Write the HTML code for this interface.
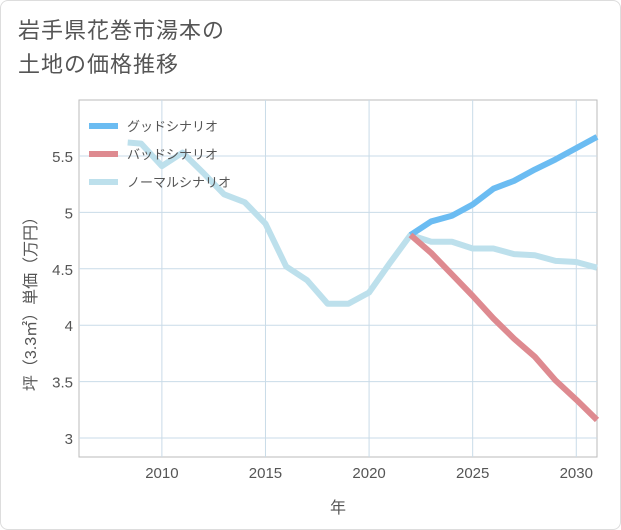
<!DOCTYPE html>
<html><head><meta charset="utf-8"><style>
body{margin:0;background:#fff;font-family:"Liberation Sans","Noto Sans CJK JP",sans-serif;}
#card{position:absolute;left:0;top:0;width:619px;height:528px;border:1px solid #ddd;border-radius:8px;background:#fff;}
#title{position:absolute;left:18px;top:14px;font-size:22px;line-height:34px;color:#555;letter-spacing:1px;}
</style></head><body>
<div id="card"></div>
<div id="title">岩手県花巻市湯本の<br>土地の価格推移</div>
<svg id="chart" width="621" height="530" style="position:absolute;left:0;top:0"></svg>
<script>
const xTicks=[2010,2015,2020,2025,2030];
const yTicks=[3,3.5,4,4.5,5,5.5];
const normalYears=[2008.35,2009,2010,2011,2012,2013,2014,2015,2016,2017,2018,2019,2020,2021,2022,2023,2024,2025,2026,2027,2028,2029,2030,2031];
const normalVals=[5.62,5.61,5.41,5.53,5.35,5.16,5.09,4.90,4.52,4.40,4.19,4.19,4.29,4.55,4.80,4.74,4.74,4.68,4.68,4.63,4.62,4.57,4.56,4.51];
const futYears=[2022,2023,2024,2025,2026,2027,2028,2029,2030,2031];
const goodVals=[4.80,4.92,4.97,5.07,5.21,5.28,5.38,5.47,5.57,5.67];
const badVals=[4.80,4.64,4.45,4.26,4.06,4.88-1.0,3.72,3.51,3.34,3.16];
const NS="http://www.w3.org/2000/svg";
const svg=document.getElementById('chart');
const L=79,R=597,T=100,B=457;
const X=y=>L+(y-2006)*(R-L)/25;
const Y=v=>438-(v-3)*112.8;
function el(t,a){const e=document.createElementNS(NS,t);for(const k in a)e.setAttribute(k,a[k]);svg.appendChild(e);return e;}
let f=el('rect',{x:L,y:T,width:R-L,height:B-T,fill:'none',stroke:'#bbb'});


xTicks.forEach(t=>{
 const g=el('line',{x1:X(t),x2:X(t),y1:T,y2:B,stroke:'#c9dbe8'});
 
 
 const tx=el('text',{x:X(t),y:478,'text-anchor':'middle','font-size':15,fill:'#555'});tx.textContent=t;
 
 
});
yTicks.forEach(t=>{
 const g=el('line',{x1:L,x2:R,y1:Y(t),y2:Y(t),stroke:'#c9dbe8'});
 
 
 const tx=el('text',{x:73,y:Y(t)+6,'text-anchor':'end','font-size':15,fill:'#555'});tx.textContent=t;
 
 
});
const xt=el('text',{x:338,y:513,'text-anchor':'middle','font-size':16,fill:'#555'});xt.textContent='年';


const yt=el('text',{x:0,y:0,'text-anchor':'middle','font-size':16,fill:'#555',transform:'translate(36,300) rotate(-90)'});yt.textContent='坪（3.3㎡）単価（万円）';


function line(xs,vs,c,name){
 const p=el('polyline',{points:xs.map((x,i)=>X(x)+','+Y(vs[i])).join(' '),fill:'none',stroke:c,'stroke-width':6,'stroke-linejoin':'round'});
 
 
}
line(normalYears,normalVals,'#bde0ec','normal-scenario-line');
line(futYears,goodVals,'#6bbcf2','good-scenario-line');
line(futYears,badVals,'#de8a90','bad-scenario-line');
const leg=[['グッドシナリオ','#6bbcf2'],['バッドシナリオ','#de8a90'],['ノーマルシナリオ','#bde0ec']];
leg.forEach((l,i)=>{
 const y=126+i*28;
 const s=el('line',{x1:89,x2:118,y1:y,y2:y,stroke:l[1],'stroke-width':6});
 
 
 const t=el('text',{x:127,y:y+5,'font-size':13,fill:'#555'});t.textContent=l[0];
 
 
});
</script>
</body></html>
